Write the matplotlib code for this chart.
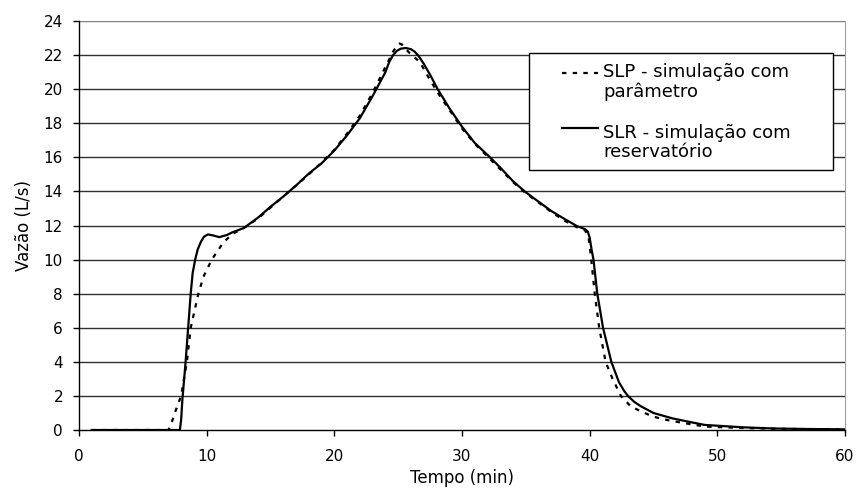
import matplotlib
matplotlib.use("Agg")
from matplotlib import pyplot as plt
from matplotlib.patches import Rectangle

plt.rcParams["font.family"] = ["DejaVu Sans"]

# SLR - reservoir simulation (solid)
slr_t = [1, 7.9, 8.0, 8.1, 8.35, 8.55, 8.75, 8.9, 9.1, 9.3, 9.55, 9.8, 10.1, 10.5, 11.0,
         11.6, 12.0, 12.9, 14, 15, 16, 17, 18, 19, 20, 21, 22, 23, 24, 24.3, 24.6,
         24.9, 25.2, 25.6, 26.0, 26.3, 26.6, 27.0, 27.5, 28.1, 29, 30, 31, 32.2, 33,
         34, 35, 36, 37, 38, 39, 39.6, 39.85, 40.0, 40.15, 40.3, 40.6, 41.05, 41.7,
         42.3, 42.7, 43.0, 43.5, 44, 45, 46.5, 48, 49, 52, 54.4, 57, 60]
slr_q = [0, 0, 0.6, 1.8, 4.0, 6.0, 8.0, 9.2, 10.0, 10.6, 11.05, 11.35, 11.48, 11.42, 11.32,
         11.45, 11.6, 11.85, 12.45, 13.1, 13.7, 14.35, 15.05, 15.65, 16.4, 17.3, 18.3,
         19.6, 21.0, 21.6, 22.0, 22.25, 22.38, 22.42, 22.35, 22.2, 21.95, 21.5, 20.85,
         20.0, 18.9, 17.8, 16.85, 16.0, 15.4, 14.6, 13.95, 13.4, 12.85, 12.4, 11.97,
         11.8, 11.65, 11.3, 10.6, 10.0, 8.0, 6.0, 4.0, 2.8, 2.3, 2.0, 1.65, 1.4, 1.0,
         0.68, 0.45, 0.3, 0.16, 0.09, 0.06, 0.04]

# SLP - parameter simulation (dashed)
slp_t = [1, 7.0, 7.2, 7.5, 8.0, 8.45, 8.75, 9.35, 9.75, 10.4, 11.3, 12.0, 12.9,
         14, 15, 16, 17, 18, 19, 20, 21, 22, 23, 24, 24.6, 24.9, 25.1, 25.3, 25.6,
         26.0, 26.7, 27.3, 28.1, 29, 30, 31, 32.2, 33, 34, 35, 36, 37, 38, 39, 39.6,
         39.9, 40.1, 40.4, 40.75, 41.25, 41.8, 42.45, 43.2, 44, 45, 46.3, 48, 49.1,
         52, 55, 60]
slp_q = [0, 0, 0.3, 1.0, 2.0, 4.0, 6.0, 8.0, 9.0, 10.0, 11.0, 11.5, 11.85,
         12.4, 13.05, 13.7, 14.35, 15.0, 15.7, 16.45, 17.4, 18.45, 19.8, 21.3, 22.2,
         22.55, 22.68, 22.62, 22.35, 22.05, 21.6, 20.8, 19.8, 18.8, 17.7, 16.8, 15.9,
         15.3, 14.55, 13.9, 13.35, 12.8, 12.3, 11.9, 11.75, 11.4, 10.2, 8.0, 6.0, 4.0,
         3.0, 2.0, 1.4, 1.1, 0.78, 0.55, 0.33, 0.2, 0.12, 0.07, 0.03]

x_ticks = list(range(0, 61, 10))
y_ticks = list(range(0, 25, 2))

DASH = (2, 2.8)

fig = plt.figure(figsize=(8.56, 4.9), dpi=100)
ax = fig.add_axes([0.0923, 0.1224, 0.8948, 0.8346])

for y in y_ticks[1:]:
    ax.axhline(y, color="#303030" if y < 24 else "#808080", lw=1.0, zorder=1)

ax.plot(slp_t, slp_q, color="black", lw=1.6, dashes=DASH, zorder=3)
ax.plot(slr_t, slr_q, color="black", lw=1.6, zorder=2)

ax.set_xlim(0, 60)
ax.set_ylim(0, 24)
ax.set_xticks(x_ticks)
ax.set_yticks(y_ticks)
ax.tick_params(direction="out", length=4.5, width=1, labelsize=11)
ax.tick_params(axis="x", pad=9.5)
ax.tick_params(axis="y", pad=7)
ax.spines["top"].set_visible(False)
ax.spines["right"].set_color("#a0a0a0")
ax.spines["left"].set_linewidth(1)
ax.spines["bottom"].set_linewidth(1)

ax.set_xlabel("Tempo (min)", fontsize=12, labelpad=3)
ax.set_ylabel("Vazão (L/s)", fontsize=12, labelpad=8)

# legend box drawn by hand so each handle sits on the first text line;
# text y is the baseline of the second line of each label
ax.add_patch(Rectangle((0.5875, 0.6357), 0.3968, 0.2873, transform=ax.transAxes,
                       facecolor="white", edgecolor="black", lw=1, zorder=5,
                       clip_on=False))
entries = [
    ("SLP - simulação com\nparâmetro", DASH, 0.8736, 0.8149),
    ("SLR - simulação com\nreservatório", None, 0.7391, 0.6682),
]
for label, dashes, y_handle, y_text in entries:
    line, = ax.plot([0.6305, 0.6775], [y_handle, y_handle], transform=ax.transAxes,
                    color="black", lw=1.6, zorder=6, clip_on=False)
    if dashes:
        line.set_dashes(dashes)
    ax.text(0.684, y_text, label, transform=ax.transAxes, fontsize=13,
            va="baseline", ha="left", linespacing=1.08, zorder=6)

fig.savefig("out.png", dpi=100)
